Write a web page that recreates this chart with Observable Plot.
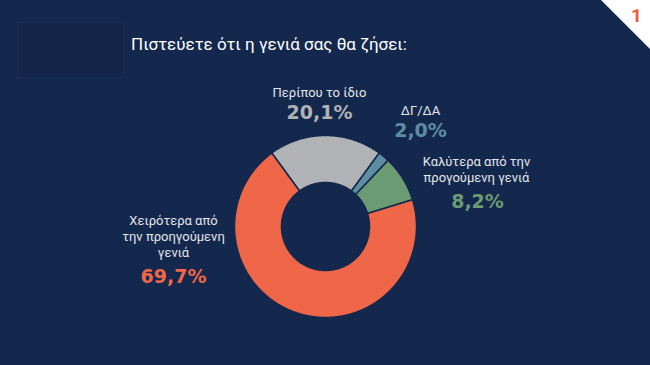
<!DOCTYPE html>
<html><head><meta charset="utf-8">
<script src="https://cdn.jsdelivr.net/npm/d3@7"></script>
<script src="https://cdn.jsdelivr.net/npm/@observablehq/plot@0.6"></script>
<style>
html,body{margin:0;padding:0;background:#14284d;width:650px;height:365px;overflow:hidden;}
#wrap{position:relative;width:650px;height:365px;}
#logo{position:absolute;left:18px;top:22px;width:106px;height:56px;background:#13264a;border:1px solid #182d53;box-sizing:border-box;}
#title{position:absolute;left:131px;top:34px;color:#ffffff;font:17px "Roboto",sans-serif;white-space:nowrap;}
#corner{position:absolute;left:601px;top:0;width:49px;height:49px;background:#ffffff;clip-path:polygon(0 0,100% 0,100% 100%);}
#num{position:absolute;left:631px;top:4px;color:#ee5a3c;font:bold 19px "Roboto",sans-serif;}
#chart{position:absolute;left:0;top:0;}
</style></head>
<body><div id="wrap">
<div id="logo"></div>
<div id="title">Πιστεύετε ότι η γενιά σας θα ζήσει:</div>
<div id="corner"></div>
<div id="num">1</div>
<div id="chart"></div>
</div>
<script>
const categories = ["Περίπου το ίδιο", "ΔΓ/ΔΑ", "Καλύτερα από την προηγούμενη γενιά", "Χειρότερα από την προηγούμενη γενιά"];
const values = [20.1, 2.0, 8.2, 69.7];
const colors = ["#b1b2b6", "#5e8da3", "#6b9b73", "#ef6649"];
const nameLabels = ["Περίπου το ίδιο", "ΔΓ/ΔΑ", "Καλύτερα από την\nπρογούμενη γενιά", "Χειρότερα από\nτην προηγούμενη\nγενιά"];
const pctLabels = ["20,1%", "2,0%", "8,2%", "69,7%"];

// layout (pixels)
const cx = 325, cy = 226, R = 91, r0 = 44;
const namePos = [[319, 96], [420, 114], [476, 181], [173, 256]];
const pctPos = [[319, 118], [420, 136], [477, 207], [173, 282]];

const total = d3.sum(values);
const start = -(values[0] / total) * Math.PI; // gray slice centered at top
const pts = [];
let acc = start;
categories.forEach((c, i) => {
  const a0 = acc, a1 = acc + values[i] / total * 2 * Math.PI;
  acc = a1;
  const n = Math.max(2, Math.ceil((a1 - a0) / 0.01));
  const ring = [];
  for (let k = 0; k <= n; k++) { const a = a0 + (a1 - a0) * k / n; ring.push([cx + R * Math.sin(a), cy - R * Math.cos(a)]); }
  for (let k = n; k >= 0; k--) { const a = a0 + (a1 - a0) * k / n; ring.push([cx + r0 * Math.sin(a), cy - r0 * Math.cos(a)]); }
  ring.push(ring[0]);
  ring.forEach(([x, y]) => pts.push({key: c, x, y}));
});

const names = categories.map((c, i) => ({key: c, text: nameLabels[i], x: namePos[i][0], y: namePos[i][1]}));
const pcts = categories.map((c, i) => ({key: c, text: pctLabels[i], x: pctPos[i][0], y: pctPos[i][1]}));

const chart = Plot.plot({
  width: 650, height: 365, margin: 0,
  x: {domain: [0, 650], range: [0, 650], axis: null},
  y: {domain: [0, 365], range: [0, 365], axis: null},
  color: {domain: categories, range: colors},
  style: {background: "transparent", overflow: "visible"},
  marks: [
    Plot.line(pts, {x: "x", y: "y", z: "key", fill: "key", stroke: "#14284d", strokeWidth: 1.5, curve: "linear"}),
    Plot.text(names, {x: "x", y: "y", text: "text", fill: "#e3e6ec", fontSize: 13, lineAnchor: "bottom", lineHeight: 1.22, fontFamily: "Roboto", textAnchor: "middle"}),
    Plot.text(pcts, {x: "x", y: "y", text: "text", fill: "key", fontSize: 19, fontWeight: "bold", lineAnchor: "bottom", fontFamily: "DejaVu Sans", textAnchor: "middle"})
  ]
});
document.getElementById("chart").appendChild(chart);
</script>
</body></html>
